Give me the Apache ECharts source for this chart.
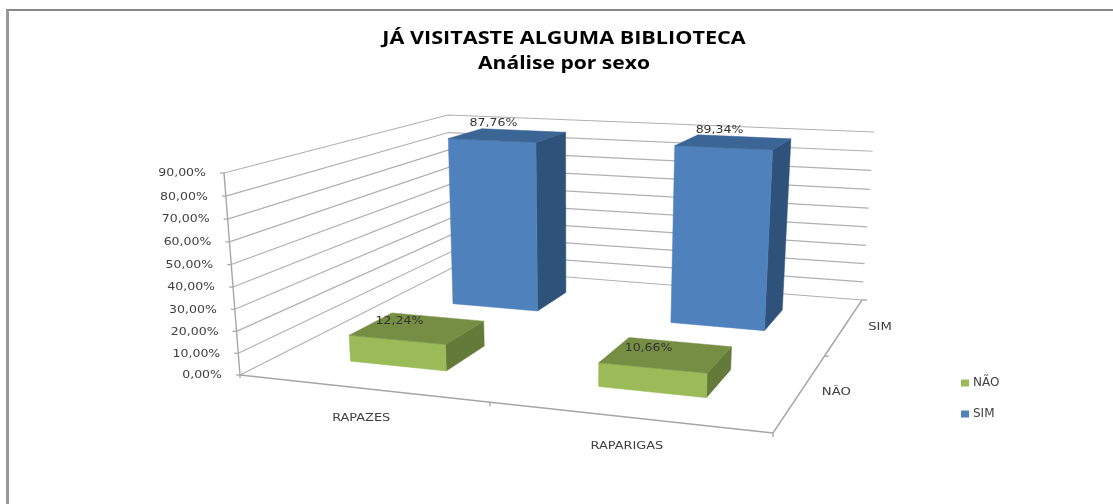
<!DOCTYPE html>
<html><head><meta charset="utf-8">
<style>html,body{margin:0;padding:0;background:#fff}#c{width:1113px;height:504px}</style>
<script src="https://cdn.jsdelivr.net/npm/echarts@6/dist/echarts.min.js"></script>
</head><body><div id="c"></div>
<script>
const categories = ['RAPAZES', 'RAPARIGAS'];
const depthCategories = ['NÃO', 'SIM'];
const valuesNao = [0.1224, 0.1066];
const valuesSim = [0.8776, 0.8934];
const labelsNao = ['12,24%', '10,66%'];
const labelsSim = ['87,76%', '89,34%'];
const tickValues = [0, 0.1, 0.2, 0.3, 0.4, 0.5, 0.6, 0.7, 0.8, 0.9];
const tickLabels = ['0,00%', '10,00%', '20,00%', '30,00%', '40,00%', '50,00%', '60,00%', '70,00%', '80,00%', '90,00%'];
const titleLines = ['JÁ VISITASTE ALGUMA BIBLIOTECA', 'Análise por sexo'];

// Excel's 3D box: the projected corners of the floor and of the ceiling plane
function homography(p00, p10, p01, p11) {
  const dx1 = p10[0] - p11[0], dx2 = p01[0] - p11[0], sx = p00[0] - p10[0] + p11[0] - p01[0];
  const dy1 = p10[1] - p11[1], dy2 = p01[1] - p11[1], sy = p00[1] - p10[1] + p11[1] - p01[1];
  const det = dx1 * dy2 - dx2 * dy1;
  const g = (sx * dy2 - dx2 * sy) / det, k = (dx1 * sy - sx * dy1) / det;
  const a = p10[0] - p00[0] + g * p10[0], b = p01[0] - p00[0] + k * p01[0];
  const d = p10[1] - p00[1] + g * p10[1], e = p01[1] - p00[1] + k * p01[1];
  return (u, v) => {
    const w = g * u + k * v + 1;
    return [(a * u + b * v + p00[0]) / w, (d * u + e * v + p00[1]) / w];
  };
}
const floorPlane = homography([240, 375], [773, 433], [452, 268], [862, 300]);
const topPlane = homography([224, 173], [783, 205], [448, 115], [874, 132]);
const hBend = 0.035;
function project(u, v, h) {
  const f = floorPlane(u, v), t = topPlane(u, v);
  const q = h * (1 + hBend * (h - 1));
  return [f[0] + (t[0] - f[0]) * q, f[1] + (t[1] - f[1]) * q];
}
// reads the chart's own hidden axes: category band -> u, value -> h
function uvh(params, api, cat, val) {
  const cs = params.coordSys;
  const pt = api.coord([cat, val]);
  return { u: (pt[0] - cs.x) / cs.width, h: (cs.y + cs.height - pt[1]) / cs.height };
}
const barU = 0.2, barT = 0.19;
const axisColor = '#a6a6a6', gridColor = '#b0b0b0', labelColor = '#404040';

function txt(text, x, y, o) {
  o = o || {};
  return { type: 'text', x, y, scaleX: o.sx || 1.14, z2: 10, style: {
    text, x: 0, y: 0, align: o.align || 'center', verticalAlign: 'middle',
    font: o.font || '11px "DejaVu Sans"', fill: o.fill || labelColor } };
}

function barSeries(name, depthIdx, values, labels, colors, lx, ly) {
  return {
    type: 'custom', name, coordinateSystem: 'cartesian2d', z: 6 - depthIdx,
    itemStyle: { color: colors.front },
    encode: { x: 0, y: 1 },
    data: values.map((v, i) => [categories[i], v, labels[i]]),
    renderItem(params, api) {
      const i = params.dataIndex, r = uvh(params, api, i, api.value(1));
      const uc = r.u, vc = (depthIdx + 0.5) / depthCategories.length;
      const u0 = uc - barU / 2, u1 = uc + barU / 2, v0 = vc - barT / 2, v1 = vc + barT / 2;
      const poly = (pts, fill) => ({ type: 'polygon', shape: { points: pts }, style: { fill, stroke: fill, lineWidth: 0.5 } });
      const top = [project(u0, v0, r.h), project(u1, v0, r.h), project(u1, v1, r.h), project(u0, v1, r.h)];
      const front = [project(u0, v0, 0), project(u1, v0, 0), project(u1, v0, r.h), project(u0, v0, r.h)];
      const side = [project(u1, v0, 0), project(u1, v1, 0), project(u1, v1, r.h), project(u1, v0, r.h)];
      const cx = (top[0][0] + top[1][0] + top[2][0] + top[3][0]) / 4;
      const cy = (top[0][1] + top[1][1] + top[2][1] + top[3][1]) / 4;
      return { type: 'group', children: [
        poly(side, colors.side), poly(front, colors.front), poly(top, colors.top),
        txt(api.value(2), cx + lx, cy + ly, { fill: '#333' })
      ] };
    }
  };
}

const wallSeries = {
  type: 'custom', coordinateSystem: 'cartesian2d', z: 1, silent: true,
  data: tickValues.map((v, i) => [categories[0], v, tickLabels[i]]),
  encode: { x: 0, y: 1 },
  renderItem(params, api) {
    const h = uvh(params, api, 0, api.value(1)).h;
    const a = project(0, 0, h), b = project(0, 1, h), c = project(1, 1, h);
    return { type: 'group', children: [
      { type: 'polyline', shape: { points: [a, b, c] }, style: { stroke: gridColor, lineWidth: 1.2, fill: 'none' } },
      { type: 'line', shape: { x1: a[0] - 4, y1: a[1], x2: a[0], y2: a[1] }, style: { stroke: axisColor, lineWidth: 1.2 } },
      txt(api.value(2), a[0] - 18, a[1] + 0.5, { align: 'right' })
    ] };
  }
};

const axesSeries = {
  type: 'custom', coordinateSystem: 'cartesian2d', z: 2, silent: true,
  data: [[categories[0], 0]],
  encode: { x: 0, y: 1 },
  renderItem() {
    const seg = (p, q) => ({ type: 'line', shape: { x1: p[0], y1: p[1], x2: q[0], y2: q[1] }, style: { stroke: axisColor, lineWidth: 1.4 } });
    const fl = project(0, 0, 0), fr = project(1, 0, 0), br = project(1, 1, 0), tl = project(0, 0, 1);
    const fm = project(0.5, 0, 0), rm = project(1, 0.5, 0);
    return { type: 'group', children: [
      seg(fl, tl), seg(fl, fr), seg(fr, br),
      seg(fl, [fl[0], fl[1] + 3]), seg(fm, [fm[0], fm[1] + 4]), seg(fr, [fr[0], fr[1] + 4]),
      seg(rm, [rm[0] + 4, rm[1]]), seg(br, [br[0] + 5, br[1]])
    ] };
  }
};

const axisLabelSeries = {
  type: 'custom', coordinateSystem: 'cartesian2d', z: 3, silent: true,
  data: categories.map(c => [c, 0]),
  encode: { x: 0, y: 1 },
  renderItem(params, api) {
    const i = params.dataIndex, r = uvh(params, api, i, 0);
    const p = project(r.u, 0, 0);
    const d = project(1, (i + 0.5) / depthCategories.length, 0);
    return { type: 'group', children: [
      txt(categories[i], p[0], p[1] + 29.5, { sx: 1.17 }),
      txt(depthCategories[i], d[0] + 35.5, d[1] + 1, { sx: 1.2 })
    ] };
  }
};

const titleFont = 'bold 18px "Open Sans"';
const chart = echarts.init(document.getElementById('c'), null, { renderer: 'canvas' });
chart.setOption({
  animation: false,
  backgroundColor: '#fff',
  legend: {
    data: ['NÃO', 'SIM'], orient: 'vertical', left: 956, top: 372, itemWidth: 8, itemHeight: 7, itemGap: 19,
    icon: 'rect', selectedMode: false,
    textStyle: { fontFamily: 'DejaVu Sans', fontSize: 12, color: labelColor, padding: [0, 0, 0, -1] }
  },
  grid: { left: 0, right: 0, top: 0, bottom: 0 },
  xAxis: { type: 'category', data: categories, show: false },
  yAxis: { type: 'value', min: 0, max: 0.9, interval: 0.1, show: false },
  graphic: [
    { type: 'line', shape: { x1: 6, y1: 10, x2: 1113, y2: 10 }, style: { stroke: '#888', lineWidth: 2 }, z: 0 },
    { type: 'line', shape: { x1: 7.5, y1: 10, x2: 7.5, y2: 504 }, style: { stroke: '#999', lineWidth: 3 }, z: 0 },
    { type: 'text', x: 564, y: 39, scaleX: 1.2, z: 10, style: { text: titleLines[0], x: 0, y: 0, align: 'center', verticalAlign: 'middle', font: titleFont, fill: '#000' } },
    { type: 'text', x: 564, y: 64, scaleX: 1.17, z: 10, style: { text: titleLines[1], x: 0, y: 0, align: 'center', verticalAlign: 'middle', font: titleFont, fill: '#000' } }
  ],
  series: [
    wallSeries, axesSeries, axisLabelSeries,
    barSeries('SIM', 1, valuesSim, labelsSim, { front: '#4f81bd', side: '#2f527a', top: '#3b6594' }, -14.5, -12),
    barSeries('NÃO', 0, valuesNao, labelsNao, { front: '#9bbb59', side: '#647a39', top: '#768e44' }, -18, -7)
  ]
});
</script></body></html>
